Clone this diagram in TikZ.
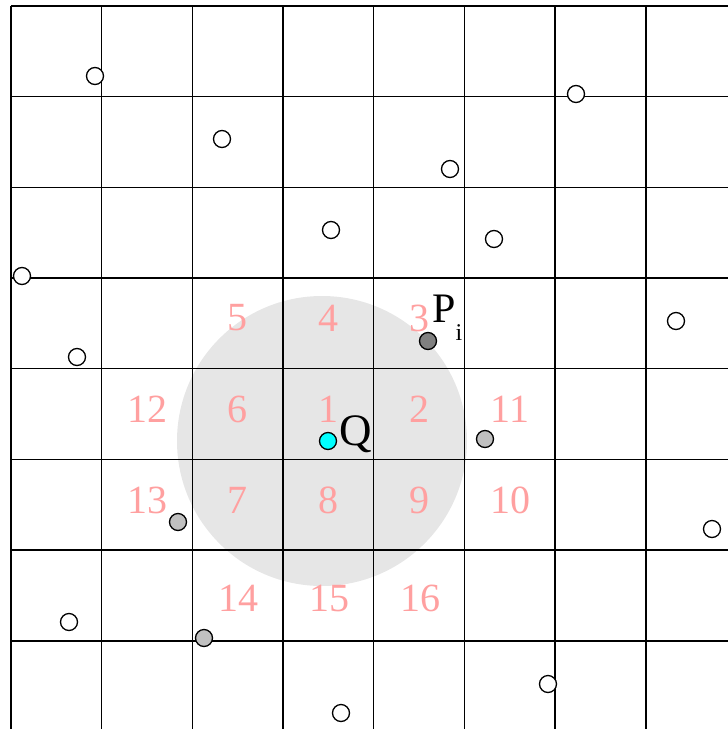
\documentclass[tikz,border=0pt]{standalone}
\usepackage{fontspec}
\setmainfont{Liberation Serif}
\usepackage{tikz}
\usetikzlibrary{positioning}
\definecolor{CellPink}{RGB}{255,160,160}
\definecolor{RangeGray}{RGB}{230,230,230}
\definecolor{NearGray}{RGB}{192,192,192}
\definecolor{HitGray}{RGB}{128,128,128}
\definecolor{QueryCyan}{RGB}{0,255,255}
\tikzset{
  gridline/.style={line width=1.5pt, draw=black},
  cellno/.style={inner sep=0pt, text=CellPink, font=\fontsize{40}{40}\selectfont},
  pt/.style={circle, draw=black, line width=1.3pt, fill=white,
    minimum size=17pt, inner sep=0pt},
  near/.style={pt, fill=NearGray},
  hit/.style={pt, fill=HitGray},
  query/.style={pt, fill=QueryCyan},
  tag/.style={inner sep=0pt, anchor=base west, text=black}
}
\begin{document}
\begin{tikzpicture}[x=1pt, y=-1pt]
  \useasboundingbox (0,0) rectangle (728,729);
  \fill[RangeGray] (322,441) circle[radius=145pt];

  \foreach \k in {0,...,7} {
    \draw[gridline] ({11+90.68*\k},6) -- ({11+90.68*\k},729);
    \draw[gridline] (11,{6+90.68*\k}) -- (728,{6+90.68*\k});
  }

  \node[cellno] (c5)  at (237,318) {5};
  \node[cellno] (c4)  at (328,318) {4};
  \node[cellno] (c3)  at (419,318) {3};
  \node[cellno] (c12) at (147,409) {12};
  \node[cellno] (c6)  at (237,409) {6};
  \node[cellno] (c1)  at (328,409) {1};
  \node[cellno] (c2)  at (419,409) {2};
  \node[cellno] (c11) at (510,409) {11};
  \node[cellno] (c13) at (147,500) {13};
  \node[cellno] (c7)  at (237,500) {7};
  \node[cellno] (c8)  at (328,500) {8};
  \node[cellno] (c9)  at (419,500) {9};
  \node[cellno] (c10) at (510,500) {10};
  \node[cellno] (c14) at (238,598) {14};
  \node[cellno] (c15) at (329,598) {15};
  \node[cellno] (c16) at (420,598) {16};

  \node[pt] (p1)  at (95,76) {};
  \node[pt] (p2)  at (576,94) {};
  \node[pt] (p3)  at (222,139) {};
  \node[pt] (p4)  at (450,169) {};
  \node[pt] (p5)  at (331,230) {};
  \node[pt] (p6)  at (494,239) {};
  \node[pt] (p7)  at (22,276) {};
  \node[pt] (p8)  at (676,321) {};
  \node[pt] (p9)  at (77,357) {};
  \node[pt] (p10) at (712,529) {};
  \node[pt] (p11) at (69,622) {};
  \node[pt] (p12) at (548,684) {};
  \node[pt] (p13) at (341,713) {};
  \node[near] (n1) at (485,439) {};
  \node[near] (n2) at (178,522) {};
  \node[near] (n3) at (204,638) {};
  \node[hit] (pi) at (428,341) {};
  \node[query] (q) at (328,441) {};

  \node[tag, font=\fontsize{42}{42}\selectfont] (pilabel) at (432,322)
    {P\raisebox{-0.45em}{\fontsize{24}{24}\selectfont i}};
  \node[tag, font=\fontsize{45}{45}\selectfont] (qlabel) at (339,445) {Q};
\end{tikzpicture}
\end{document}
